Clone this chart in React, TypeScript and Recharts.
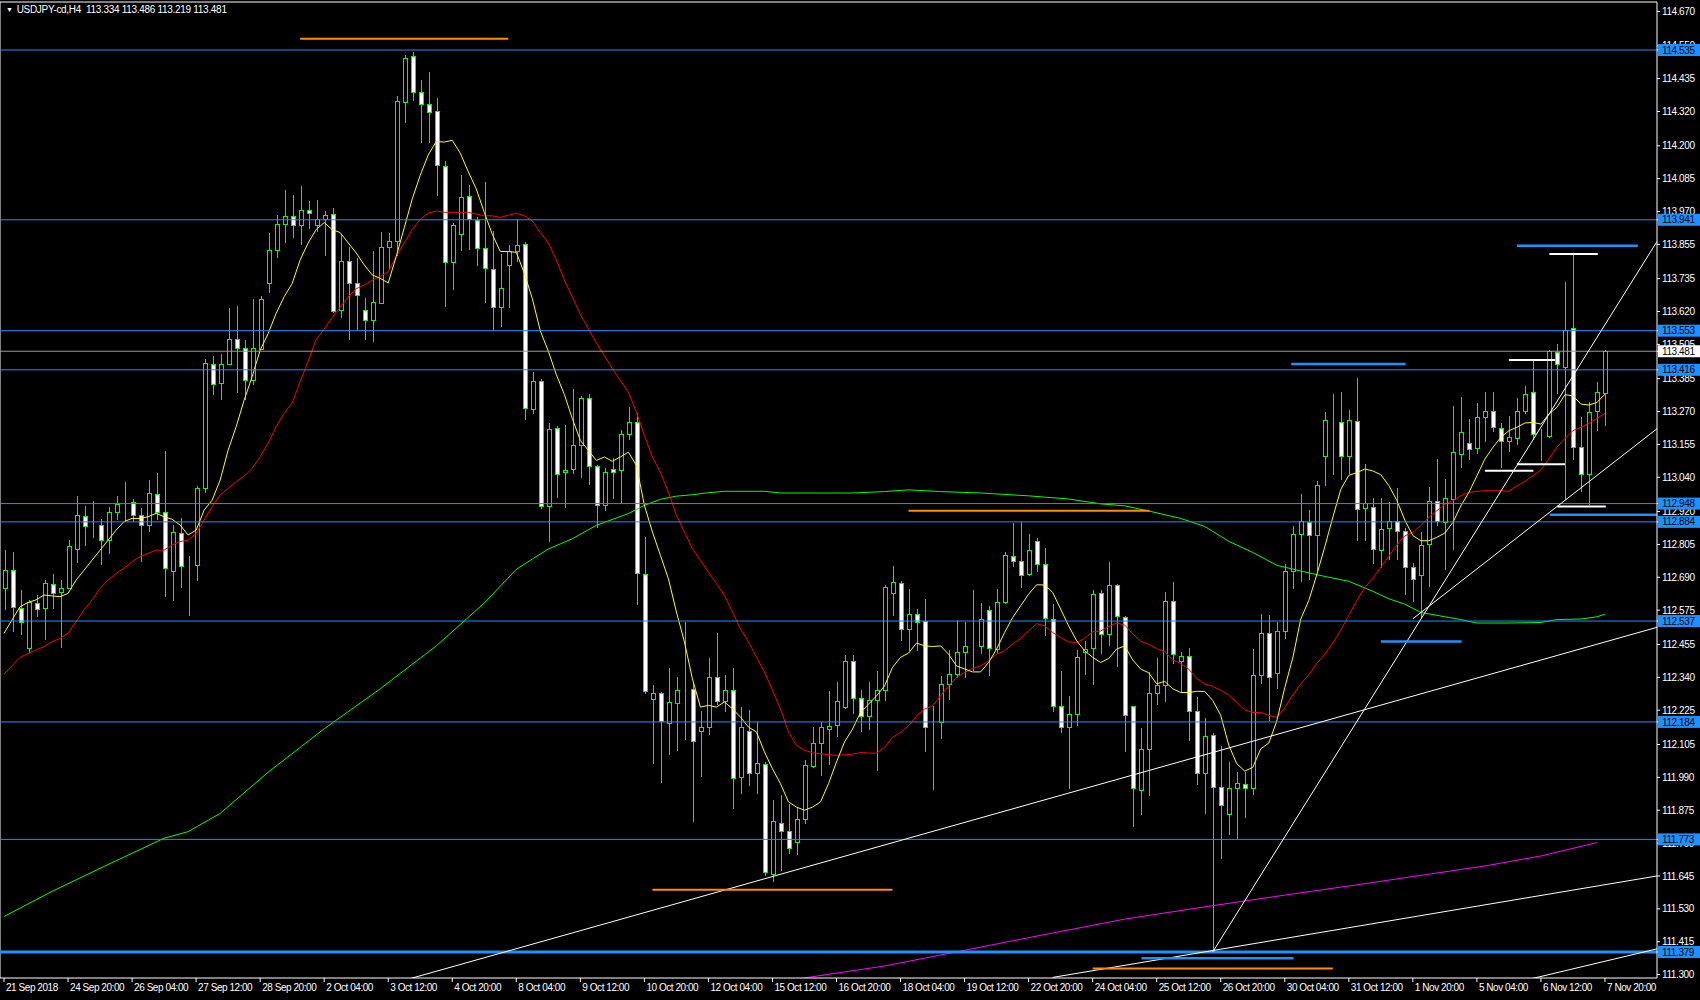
import React from 'react';
import { ComposedChart, Bar, Line, XAxis, YAxis, ReferenceLine } from 'recharts';

const FONT = "Tahoma, 'Liberation Sans', Arial, sans-serif";

const opens = [
  112.651,112.715,112.581,112.440,112.599,112.581,112.665,112.636,112.651,112.788,
  112.902,112.869,112.871,112.820,112.917,112.951,112.951,112.906,112.873,112.980,
  112.916,112.710,112.844,112.727,112.731,113.001,113.435,113.369,113.433,113.523,
  113.491,113.378,113.488,113.719,113.833,113.925,113.952,113.922,113.974,113.922,
  113.941,113.960,113.623,113.795,113.718,113.623,113.588,113.647,113.845,113.864,
  114.351,114.514,114.387,114.345,114.319,114.126,113.792,113.890,114.022,113.937,
  113.839,113.768,113.633,113.780,113.831,113.854,113.277,113.375,112.937,113.209,
  113.055,113.067,113.152,113.317,113.079,112.942,113.067,113.064,113.189,113.233,
  112.700,112.263,112.282,112.180,112.248,112.300,112.298,112.151,112.163,112.341,
  112.256,112.295,111.988,112.149,112.005,112.036,111.651,111.830,111.801,111.762,
  111.843,112.029,112.110,112.158,112.172,112.236,112.396,112.266,112.203,112.259,
  112.293,112.632,112.668,112.506,112.560,112.534,112.166,112.182,112.315,112.349,
  112.426,112.450,112.447,112.574,112.436,112.601,112.763,112.745,112.699,112.815,
  112.735,112.541,112.238,112.163,112.209,112.427,112.441,112.633,112.490,112.661,
  112.550,112.239,111.945,112.086,112.282,112.313,112.605,112.397,112.412,112.220,
  112.002,112.136,111.954,111.861,111.950,111.965,111.952,112.346,112.495,112.353,
  112.502,112.710,112.840,112.881,112.836,113.112,113.234,113.231,113.112,113.235,
  112.930,112.933,112.784,112.862,112.884,112.852,112.725,112.696,112.806,112.956,
  112.882,112.964,113.119,113.159,113.141,113.250,113.271,113.211,113.166,113.176,
  113.269,113.337,113.185,113.183,113.477,113.424,113.559,113.145,113.049,113.269,
  113.334,
];

const highs = [
  112.785,112.780,112.646,112.611,112.628,112.681,112.701,112.681,112.820,112.974,
  112.939,112.957,112.893,112.937,112.974,113.022,112.963,112.931,113.030,113.054,
  113.132,112.873,112.896,112.764,113.009,113.453,113.464,113.470,113.631,113.639,
  113.520,113.663,113.674,113.896,113.958,114.045,114.029,114.059,114.007,114.010,
  113.973,113.982,113.890,113.846,113.807,113.667,113.831,113.898,113.893,114.375,
  114.519,114.529,114.430,114.458,114.367,114.146,113.931,114.097,114.064,113.951,
  114.073,113.902,113.822,113.854,113.939,113.862,113.410,113.383,113.229,113.221,
  113.224,113.350,113.323,113.333,113.084,113.072,113.107,113.207,113.286,113.265,
  112.831,112.314,112.289,112.373,112.341,112.534,112.324,112.221,112.408,112.495,
  112.349,112.373,112.236,112.225,112.184,112.044,111.910,111.930,111.898,111.886,
  112.052,112.166,112.184,112.292,112.324,112.419,112.418,112.296,112.324,112.361,
  112.663,112.728,112.678,112.649,112.579,112.614,112.238,112.343,112.435,112.540,
  112.532,112.645,112.600,112.588,112.649,112.777,112.880,112.885,112.841,112.827,
  112.794,112.598,112.361,112.274,112.436,112.468,112.645,112.646,112.744,112.666,
  112.555,112.239,112.164,112.359,112.408,112.639,112.674,112.430,112.444,112.272,
  112.197,112.145,112.101,112.045,112.010,112.010,112.440,112.563,112.557,112.535,
  112.738,112.868,112.982,112.924,113.026,113.267,113.332,113.337,113.274,113.387,
  113.086,112.969,112.968,112.952,113.004,112.862,112.740,112.850,113.007,113.104,
  113.034,113.290,113.320,113.244,113.300,113.337,113.337,113.230,113.253,113.317,
  113.358,113.448,113.209,113.486,113.506,113.724,113.821,113.250,113.302,113.372,
  113.486,
];

const lows = [
  112.576,112.500,112.488,112.425,112.552,112.471,112.578,112.442,112.651,112.739,
  112.799,112.826,112.733,112.770,112.890,112.885,112.885,112.745,112.850,112.890,
  112.620,112.608,112.651,112.556,112.678,112.986,113.328,113.310,113.433,113.334,
  113.310,113.363,113.488,113.684,113.809,113.861,113.878,113.851,113.910,113.898,
  113.815,113.614,113.597,113.519,113.555,113.519,113.513,113.647,113.765,113.813,
  114.280,114.355,114.209,114.209,114.023,113.635,113.694,113.831,113.834,113.780,
  113.650,113.552,113.567,113.633,113.795,113.241,113.263,112.928,112.813,112.967,
  112.932,113.053,113.039,113.012,112.863,112.921,112.963,112.951,113.169,112.594,
  112.283,112.038,111.971,112.067,112.081,112.120,111.834,111.991,112.137,112.242,
  112.219,111.878,111.933,111.960,111.933,111.645,111.624,111.661,111.723,111.717,
  111.828,112.023,111.994,112.032,112.131,112.230,112.211,112.149,112.156,112.013,
  112.258,112.555,112.468,112.433,112.433,112.079,111.947,112.124,112.260,112.338,
  112.338,112.363,112.422,112.345,112.425,112.596,112.727,112.654,112.693,112.707,
  112.483,112.217,112.144,111.949,112.170,112.348,112.314,112.421,112.448,112.377,
  112.079,111.818,111.860,111.924,112.243,112.255,112.388,112.287,112.116,111.963,
  111.863,111.380,111.704,111.790,111.775,111.847,111.928,112.317,112.187,112.300,
  112.473,112.650,112.674,112.680,112.712,113.011,113.047,113.030,113.052,112.816,
  112.816,112.738,112.723,112.751,112.751,112.628,112.602,112.546,112.655,112.871,
  112.717,112.787,113.072,113.101,113.121,113.162,113.197,113.071,113.129,113.153,
  113.261,113.171,113.098,113.177,113.331,112.961,113.101,112.987,112.944,113.201,
  113.219,
];

const closes = [
  112.715,112.585,112.532,112.602,112.578,112.669,112.634,112.651,112.797,112.908,
  112.869,112.869,112.820,112.917,112.945,112.951,112.906,112.873,112.984,112.916,
  112.721,112.847,112.727,112.727,113.001,113.439,113.363,113.433,113.523,113.491,
  113.380,113.491,113.663,113.832,113.923,113.952,113.922,113.975,113.963,113.943,
  113.957,113.620,113.795,113.718,113.677,113.588,113.650,113.845,113.865,114.354,
  114.507,114.387,114.345,114.318,114.132,113.792,113.922,114.020,113.943,113.839,
  113.771,113.635,113.700,113.831,113.852,113.280,113.375,112.937,113.207,113.050,
  113.063,113.152,113.317,113.079,112.940,113.058,113.055,113.189,113.233,112.705,
  112.292,112.282,112.184,112.251,112.295,112.300,112.114,112.163,112.341,112.256,
  112.295,111.985,112.166,112.005,112.040,111.657,111.834,111.799,111.741,111.843,
  112.032,112.110,112.163,112.169,112.254,112.396,112.266,112.203,112.259,112.294,
  112.654,112.672,112.506,112.560,112.532,112.163,112.166,112.315,112.350,112.427,
  112.448,112.450,112.542,112.441,112.601,112.765,112.745,112.696,112.785,112.735,
  112.546,112.238,112.163,112.210,112.410,112.438,112.630,112.490,112.661,112.553,
  112.205,111.950,112.086,112.282,112.313,112.605,112.421,112.412,112.220,112.002,
  112.132,111.954,111.892,111.950,111.970,111.950,112.346,112.495,112.339,112.499,
  112.712,112.840,112.884,112.836,113.011,113.237,113.234,113.114,113.237,112.926,
  112.950,112.786,112.859,112.884,112.852,112.725,112.684,112.803,112.956,112.886,
  112.966,113.125,113.197,113.136,113.250,113.271,113.215,113.166,113.180,113.271,
  113.328,113.189,113.185,113.480,113.436,113.555,113.145,113.049,113.267,113.335,
  113.481,
];

// fast moving average (yellow), one value per bar
const yellowMA = [
  112.494,112.541,112.587,112.602,112.611,112.628,112.625,112.622,112.634,112.680,
  112.715,112.750,112.785,112.820,112.855,112.885,112.896,112.896,112.902,112.914,
  112.902,112.893,112.873,112.838,112.855,112.925,112.960,113.030,113.135,113.217,
  113.310,113.392,113.485,113.543,113.614,113.672,113.718,113.801,113.860,113.907,
  113.931,113.907,113.896,113.860,113.825,113.783,113.748,113.736,113.720,113.813,
  113.913,114.014,114.097,114.168,114.215,114.213,114.219,114.174,114.109,114.049,
  113.967,113.890,113.830,113.830,113.827,113.754,113.665,113.552,113.481,113.399,
  113.330,113.245,113.169,113.134,113.099,113.111,113.096,113.111,113.128,113.082,
  112.942,112.849,112.767,112.685,112.569,112.464,112.335,112.236,112.242,112.236,
  112.254,112.230,112.201,112.166,112.149,112.079,112.020,111.968,111.904,111.886,
  111.875,111.886,111.904,111.968,112.044,112.114,112.159,112.217,112.246,112.275,
  112.310,112.375,112.410,112.425,112.460,112.450,112.448,112.450,112.421,112.380,
  112.369,112.359,112.359,112.392,112.439,112.497,112.549,112.590,112.631,112.664,
  112.663,112.637,112.579,112.520,112.468,112.433,112.410,112.392,112.406,112.439,
  112.450,112.401,112.369,112.356,112.317,112.326,112.300,112.287,112.287,112.291,
  112.291,112.259,112.207,112.103,112.038,112.012,112.025,112.090,112.110,112.187,
  112.304,112.408,112.544,112.609,112.699,112.797,112.900,112.998,113.047,113.056,
  113.069,113.062,113.049,113.011,112.959,112.890,112.836,112.818,112.818,112.830,
  112.845,112.882,112.940,112.987,113.045,113.104,113.145,113.180,113.203,113.215,
  113.230,113.232,113.226,113.261,113.285,113.329,113.325,113.296,113.293,113.302,
  113.331,
];

// slower moving average (red): [bar, price]
const redMA = [
  [0,112.351],[2,112.410],[4,112.436],[5,112.447],[6,112.465],[7,112.476],[8,112.494],[9,112.535],
  [10,112.576],[11,112.611],[12,112.651],[13,112.680],[14,112.704],[15,112.721],[16,112.745],[17,112.762],
  [18,112.774],[19,112.785],[20,112.785],[21,112.803],[22,112.815],[23,112.820],[24,112.844],[25,112.890],
  [26,112.937],[27,112.978],[28,113.001],[29,113.025],[30,113.044],[31,113.071],[32,113.112],[33,113.159],
  [34,113.217],[35,113.264],[36,113.300],[37,113.375],[38,113.446],[39,113.523],[40,113.558],[41,113.600],
  [42,113.635],[43,113.671],[44,113.700],[45,113.712],[46,113.730],[47,113.742],[48,113.760],[49,113.813],
  [50,113.860],[51,113.907],[52,113.943],[53,113.964],[54,113.972],[55,113.967],[56,113.967],[57,113.967],
  [58,113.967],[59,113.961],[60,113.955],[61,113.955],[62,113.949],[63,113.957],[64,113.964],[65,113.955],
  [66,113.937],[67,113.896],[68,113.860],[69,113.801],[70,113.730],[71,113.671],[72,113.610],[74,113.510],
  [76,113.420],[78,113.338],[79,113.268],[80,113.187],[81,113.111],[82,113.058],[83,112.988],[84,112.907],
  [85,112.849],[86,112.790],[87,112.749],[88,112.709],[89,112.668],[90,112.627],[91,112.569],[92,112.510],
  [93,112.464],[94,112.411],[95,112.359],[96,112.295],[97,112.230],[98,112.149],[99,112.102],[100,112.085],
  [101,112.076],[102,112.073],[103,112.069],[104,112.067],[105,112.069],[106,112.071],[107,112.077],[108,112.075],
  [109,112.075],[110,112.095],[111,112.130],[112,112.147],[113,112.170],[114,112.205],[115,112.229],[116,112.240],
  [117,112.275],[118,112.310],[119,112.340],[120,112.357],[121,112.371],[122,112.380],[123,112.398],[124,112.421],
  [125,112.433],[126,112.456],[127,112.476],[128,112.503],[129,112.528],[130,112.520],[131,112.497],[132,112.479],
  [133,112.464],[134,112.462],[135,112.476],[136,112.499],[137,112.502],[138,112.518],[139,112.530],[140,112.523],
  [141,112.492],[142,112.466],[143,112.456],[144,112.440],[145,112.430],[146,112.401],[147,112.388],[148,112.369],
  [149,112.336],[150,112.317],[151,112.308],[152,112.295],[153,112.278],[154,112.252],[155,112.226],[156,112.217],
  [157,112.217],[158,112.207],[159,112.200],[160,112.233],[161,112.278],[162,112.317],[163,112.349],[164,112.388],
  [165,112.421],[166,112.460],[167,112.505],[168,112.557],[169,112.609],[170,112.654],[171,112.687],[172,112.725],
  [173,112.764],[174,112.803],[175,112.835],[176,112.847],[177,112.871],[178,112.900],[179,112.923],[180,112.946],
  [181,112.958],[182,112.976],[183,112.987],[184,112.991],[185,112.993],[186,112.993],[187,112.993],[188,112.991],
  [189,113.010],[190,113.026],[191,113.045],[192,113.066],[193,113.104],[194,113.145],[195,113.176],[196,113.203],
  [197,113.215],[198,113.229],[199,113.246],[200,113.264],
];

// long moving average (green): [bar, price]
const greenMA = [
  [0,111.503],[6,111.591],[13,111.685],[20,111.777],[23,111.800],[27,111.864],[33,112.008],[40,112.160],
  [47,112.300],[54,112.450],[60,112.600],[64,112.718],[66,112.754],[68,112.789],[71,112.825],[74,112.872],
  [78,112.913],[80,112.942],[82,112.963],[84,112.974],[86,112.979],[88,112.986],[90,112.991],[95,112.991],
  [97,112.985],[103,112.985],[106,112.985],[110,112.990],[113,112.996],[117,112.990],[122,112.985],[128,112.975],
  [133,112.964],[137,112.947],[140,112.940],[143,112.922],[147,112.896],[150,112.868],[153,112.816],[156,112.777],
  [159,112.732],[162,112.712],[165,112.693],[168,112.676],[171,112.641],[173,112.615],[175,112.596],[177,112.567],
  [180,112.552],[182,112.542],[184,112.530],[188,112.530],[192,112.532],[194,112.542],[197,112.544],[199,112.552],
  [200,112.561],
];

// very long moving average (magenta): [bar, price]
const magentaMA = [
  [98,111.280],[110,111.330],[120,111.385],[130,111.440],[140,111.494],[150,111.537],[160,111.578],
  [170,111.618],[176,111.643],[185,111.680],[192,111.715],[199,111.762],
];

const xLabels = [
  '21 Sep 2018','24 Sep 20:00','26 Sep 04:00','27 Sep 12:00','28 Sep 20:00','2 Oct 04:00','3 Oct 12:00',
  '4 Oct 20:00','8 Oct 04:00','9 Oct 12:00','10 Oct 20:00','12 Oct 04:00','15 Oct 12:00','16 Oct 20:00',
  '18 Oct 04:00','19 Oct 12:00','22 Oct 20:00','24 Oct 04:00','25 Oct 12:00','26 Oct 20:00','30 Oct 04:00',
  '31 Oct 12:00','1 Nov 20:00','5 Nov 04:00','6 Nov 12:00','7 Nov 20:00',
];
const xTickBars = xLabels.map((_, k) => k * 8);

const priceTicks = [
  114.670,114.550,114.435,114.320,114.200,114.085,113.970,113.855,113.735,113.620,113.505,113.385,
  113.270,113.155,113.040,112.920,112.805,112.690,112.575,112.455,112.340,112.225,112.105,111.990,
  111.875,111.760,111.645,111.530,111.415,111.300,
];

const blueLevels = [114.535, 113.941, 113.553, 113.416, 112.948, 112.884, 112.537, 112.184, 111.773, 111.379];
const lastPrice = 113.481;
const headerText = 'USDJPY-cd,H4  113.334 113.486 113.219 113.481';

// short horizontal markers: [fromBar, toBar, price]
const orangeSegments = [[37, 63, 114.574], [81, 111, 111.597], [113, 143.1, 112.923], [136, 166, 111.321]];
const blueSegments = [[160.8, 175.1, 113.436], [189, 204.1, 113.850], [172, 182.1, 112.465], [142.1, 161.1, 111.357], [193.1, 206.5, 112.909]];
const whiteSegments = [[193.05, 199.1, 113.821], [188, 193.75, 113.450], [189, 195, 113.086], [185, 191.05, 113.063], [194.05, 200.1, 112.938]];
// trend lines: [bar1, price1, bar2, price2]
const trendLines = [
  [50, 111.28, 206.5, 112.515],
  [151, 111.379, 206.5, 113.865],
  [131, 111.29, 206.5, 111.645],
  [184, 111.24, 206.5, 111.39],
  [176, 112.545, 206.5, 113.21],
];

const redMap = new Map(redMA as [number, number][]);
const greenMap = new Map(greenMA as [number, number][]);
const magentaMap = new Map(magentaMA as [number, number][]);

const rows = opens.map((o, i) => ({
  i,
  o,
  h: highs[i],
  l: lows[i],
  c: closes[i],
  yellow: yellowMA[i],
  red: redMap.has(i) ? redMap.get(i) : null,
  green: greenMap.has(i) ? greenMap.get(i) : null,
  magenta: magentaMap.has(i) ? magentaMap.get(i) : null,
}));

// axis ticks: ordinary scale labels first, then the price tags (drawn on top)
const axisTicks = [...priceTicks, ...blueLevels, lastPrice];

const BLUE = '#1E90FF';
const GREEN = '#00FF00';

const Candle = (props: any) => {
  const { x, y, width, height, payload } = props;
  if (x == null || y == null || !payload) return null;
  const { o, h, l, c } = payload;
  const cx = Math.round(x + width / 2);
  const k = h - l > 0 ? height / (h - l) : 0;
  const yO = y + (h - o) * k;
  const yC = y + (h - c) * k;
  const top = Math.min(yO, yC);
  const bot = Math.max(yO, yC);
  const bull = c >= o;
  return (
    <g shapeRendering="crispEdges">
      <line x1={cx + 0.5} x2={cx + 0.5} y1={y} y2={y + height} stroke={GREEN} strokeWidth={1} />
      <rect x={cx - 1.5} y={top} width={4} height={Math.max(bot - top, 0)} fill={bull ? '#000' : '#fff'} stroke={GREEN} strokeWidth={1} />
    </g>
  );
};

const XTick = (props: any) => {
  const { x, y, payload } = props;
  const label = xLabels[Math.round(payload.value / 8)];
  return (
    <text x={x + 2} y={y} dy="0.71em" textAnchor="start" fill="#fff" fontSize={10} fontFamily={FONT} style={{ letterSpacing: '-0.45px' }}>
      {label}
    </text>
  );
};

const YTick = (props: any) => {
  const { x, y, payload } = props;
  const v = Number(payload.value);
  const isLevel = blueLevels.indexOf(v) >= 0;
  const isLast = v === lastPrice;
  if (isLevel || isLast) {
    return (
      <g>
        <rect x={x - 4} y={y - 6} width={43} height={12} fill={isLast ? '#fff' : BLUE} />
        <text x={x} y={y} dy="0.36em" textAnchor="start" fill="#000" fontSize={10} fontFamily={FONT} style={{ letterSpacing: '-0.4px' }}>
          {v.toFixed(3)}
        </text>
      </g>
    );
  }
  return (
    <text x={x} y={y} dy="0.36em" textAnchor="start" fill="#fff" fontSize={10} fontFamily={FONT} style={{ letterSpacing: '-0.4px' }}>
      {v.toFixed(3)}
    </text>
  );
};

export default function App() {
  return (
    <div style={{ position: 'absolute', left: 0, top: 0, width: 1700, height: 1000, background: '#000', overflow: 'hidden' }}>
      <ComposedChart width={1700} height={1000} data={rows} margin={{ top: 2, right: 0, bottom: 0, left: 0 }}>
        <XAxis
          dataKey="i"
          type="number"
          domain={[-0.5, 206.5]}
          allowDataOverflow
          ticks={xTickBars}
          interval={0}
          height={22}
          tickSize={4}
          tickLine={{ stroke: '#fff' }}
          axisLine={{ stroke: '#fff' }}
          tick={<XTick />}
        />
        <YAxis
          orientation="right"
          type="number"
          domain={[111.288, 114.703]}
          allowDataOverflow
          ticks={axisTicks}
          interval={0}
          width={43}
          tickSize={3}
          tickMargin={2}
          tickLine={{ stroke: '#fff' }}
          axisLine={{ stroke: '#fff' }}
          tick={<YTick />}
        />
        <ReferenceLine x={-0.5} stroke="#fff" ifOverflow="visible" />
        <ReferenceLine y={114.703} stroke="#fff" ifOverflow="visible" />
        <Bar dataKey={(d: any) => [d.l, d.h]} barSize={5} shape={<Candle />} isAnimationActive={false} />
        <Line dataKey="green" stroke={GREEN} strokeWidth={1} dot={false} connectNulls isAnimationActive={false} />
        <Line dataKey="magenta" stroke="#FF00FF" strokeWidth={1} dot={false} connectNulls isAnimationActive={false} />
        <Line dataKey="red" stroke="#FF0000" strokeWidth={1} dot={false} connectNulls isAnimationActive={false} />
        <Line dataKey="yellow" stroke="#FFFF00" strokeWidth={1} dot={false} connectNulls isAnimationActive={false} />
        {blueLevels.map((v) => (
          <ReferenceLine key={'lv' + v} y={v} stroke={BLUE} strokeWidth={v === 111.379 ? 3 : 1} ifOverflow="visible" />
        ))}
        <ReferenceLine y={lastPrice} stroke="#9a9a9a" strokeWidth={1} ifOverflow="visible" />
        {trendLines.map((t, k) => (
          <ReferenceLine
            key={'tl' + k}
            segment={[{ x: t[0], y: t[1] }, { x: t[2], y: t[3] }]}
            stroke="#fff"
            strokeWidth={1}
            ifOverflow="hidden"
          />
        ))}
        {orangeSegments.map((s, k) => (
          <ReferenceLine key={'or' + k} segment={[{ x: s[0], y: s[2] }, { x: s[1], y: s[2] }]} stroke="#FF8C00" strokeWidth={2} ifOverflow="hidden" />
        ))}
        {blueSegments.map((s, k) => (
          <ReferenceLine key={'bs' + k} segment={[{ x: s[0], y: s[2] }, { x: s[1], y: s[2] }]} stroke={BLUE} strokeWidth={2.5} ifOverflow="hidden" />
        ))}
        {whiteSegments.map((s, k) => (
          <ReferenceLine key={'ws' + k} segment={[{ x: s[0], y: s[2] }, { x: s[1], y: s[2] }]} stroke="#fff" strokeWidth={2} ifOverflow="hidden" />
        ))}
      </ComposedChart>
      <div
        style={{
          position: 'absolute',
          left: 6,
          top: 4,
          color: '#fff',
          fontFamily: FONT,
          fontSize: 10,
          lineHeight: '12px',
          whiteSpace: 'pre',
          letterSpacing: '-0.3px',
        }}
      >
        <span style={{ fontSize: 7, marginRight: 4, verticalAlign: '1px' }}>▼</span>
        {headerText}
      </div>
    </div>
  );
}
